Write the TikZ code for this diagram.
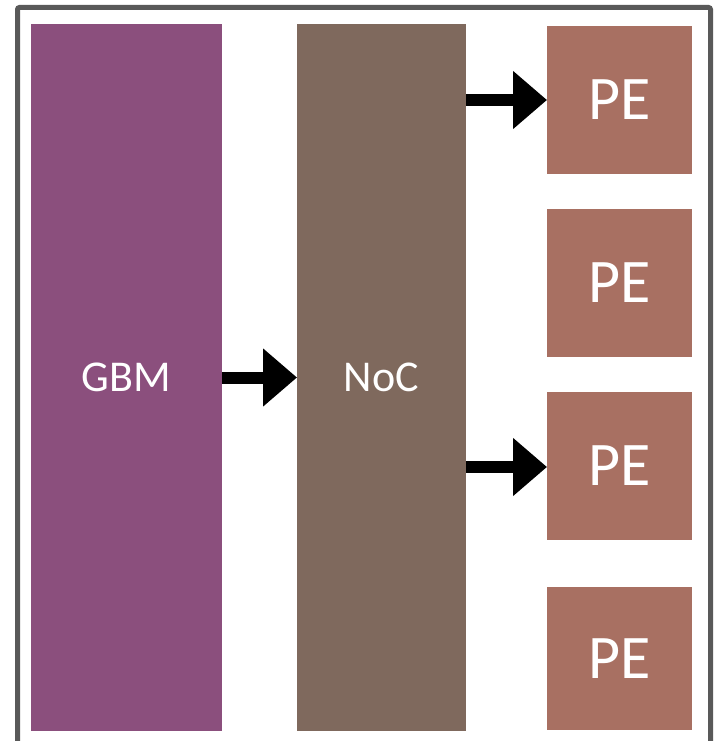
\documentclass[tikz,border=0pt]{standalone}
\usepackage{fontspec}
\setmainfont{Carlito}
\usetikzlibrary{arrows.meta}
\definecolor{gbmcol}{RGB}{139,79,125}
\definecolor{noccol}{RGB}{127,105,93}
\definecolor{pecol}{RGB}{168,112,98}
\definecolor{framecol}{RGB}{89,89,89}
\begin{document}
\begin{tikzpicture}[x=1pt,y=-1pt,
  block/.style={fill=#1, draw=none, text=white, inner sep=0pt, outer sep=0pt},
  pebox/.style={block=pecol, minimum width=145pt, minimum height=148pt,
    font=\fontsize{62}{70}\selectfont},
  flow/.style={line width=12pt, -{Triangle[length=34pt,width=56pt]}}]
\useasboundingbox (0,0) rectangle (715,741);
% outer frame (bottom edge runs past the page)
\draw[framecol, line width=5pt, rounded corners=2pt] (17.5,7.5) rectangle (710.5,780);
% main blocks
\node[block=gbmcol, minimum width=191pt, minimum height=707pt,
  font=\fontsize{44}{52}\selectfont] (gbm) at (126.5,377.5) {GBM};
\node[block=noccol, minimum width=169pt, minimum height=707pt,
  font=\fontsize{44}{52}\selectfont] (noc) at (381.5,377.5) {NoC};
% processing elements
\node[pebox] (pe1) at (619.5,100) {PE};
\node[pebox] (pe2) at (619.5,283) {PE};
\node[pebox] (pe3) at (619.5,465.5) {PE};
\node[pebox, minimum height=143pt] (pe4) at (619.5,658.5) {PE};
% data flow
\draw[flow] (gbm.east) -- (noc.west);
\draw[flow] (noc.east |- pe1.west) -- (pe1.west);
\draw[flow] ([yshift=-1.5pt]noc.east |- pe3.west) -- ([yshift=-1.5pt]pe3.west);
\end{tikzpicture}
\end{document}
